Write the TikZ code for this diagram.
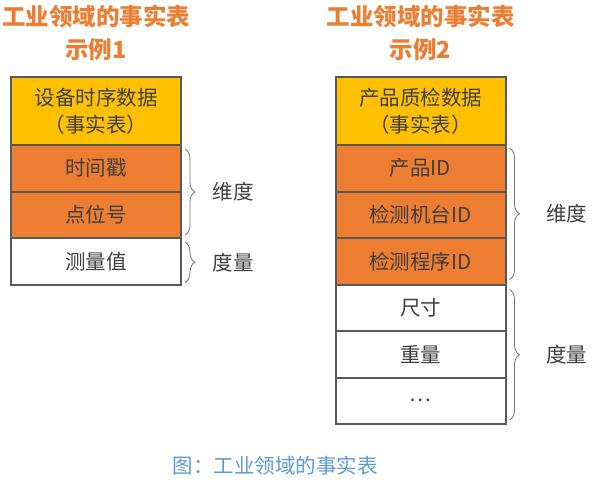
\documentclass[tikz,border=0pt]{standalone}
\usepackage{fontspec}
\setmainfont{Noto Sans CJK SC}
\usetikzlibrary{positioning,decorations.pathreplacing}
\definecolor{factyellow}{HTML}{FFC000}
\definecolor{factorange}{HTML}{ED7D31}
\definecolor{framegray}{HTML}{595959}
\definecolor{textgray}{HTML}{404040}
\definecolor{capblue}{HTML}{5B9BD5}

\begin{document}
\begin{tikzpicture}[x=1pt, y=-1pt,
  cell/.style={draw=framegray, line width=2pt, outer sep=0pt, minimum width=170pt, minimum height=46.5pt, text=textgray, font=\fontsize{20.5}{27}\selectfont},
  headcell/.style={cell, fill=factyellow, minimum height=68pt, align=center},
  dimcell/.style={cell, fill=factorange},
  meascell/.style={cell, fill=white},
  tabtitle/.style={text=factorange, font=\fontsize{23.5}{33}\selectfont\bfseries, align=center},
  brace/.style={draw=framegray!85, line width=0.8pt, decorate, decoration={brace, amplitude=10pt}},
  bracelabel/.style={text=textgray, font=\fontsize{20.5}{24}\selectfont, right=24pt}]
\useasboundingbox (0,0) rectangle (593,482);

\node (ind1_head) at (96,111) [headcell] {设备时序数据\\（事实表）};
\node (ind1_time) [dimcell, below=0pt of ind1_head] {时间戳};
\node (ind1_point) [dimcell, below=0pt of ind1_time] {点位号};
\node (ind1_value) [meascell, below=0pt of ind1_point] {测量值};
\node (ind1_title) at (ind1_head.north) [tabtitle, above=13pt] {工业领域的事实表\\示例1};

\node (ind2_head) at (420.5,111) [headcell] {产品质检数据\\（事实表）};
\node (ind2_prod) [dimcell, below=0pt of ind2_head] {产品ID};
\node (ind2_mach) [dimcell, below=0pt of ind2_prod] {检测机台ID};
\node (ind2_prog) [dimcell, below=0pt of ind2_mach] {检测程序ID};
\node (ind2_size) [meascell, below=0pt of ind2_prog] {尺寸};
\node (ind2_weight) [meascell, below=0pt of ind2_size] {重量};
\node (ind2_more) [meascell, below=0pt of ind2_weight] {…};
\node (ind2_title) at (ind2_head.north) [tabtitle, above=13pt] {工业领域的事实表\\示例2};

\draw [brace] ([xshift=4pt,yshift=-4pt]ind1_time.north east) -- ([xshift=4pt,yshift=3pt]ind1_point.south east) node [midway, bracelabel] {维度};
\draw [brace] ([xshift=4pt,yshift=-4pt]ind1_value.north east) -- ([xshift=4pt,yshift=2pt]ind1_value.south east) node [midway, bracelabel] {度量};
\draw [brace] ([xshift=4pt,yshift=-3pt]ind2_prod.north east) -- ([xshift=4pt,yshift=5pt]ind2_prog.south east) node [midway, bracelabel, xshift=9pt] {维度};
\draw [brace] ([xshift=4pt,yshift=-5pt]ind2_size.north east) -- ([xshift=4pt,yshift=4pt]ind2_more.south east) node [midway, bracelabel, xshift=9pt] {度量};

\node (caption) at (275,466) [text=capblue, font=\fontsize{20.5}{24}\selectfont] {图：工业领域的事实表};

\end{tikzpicture}
\end{document}
